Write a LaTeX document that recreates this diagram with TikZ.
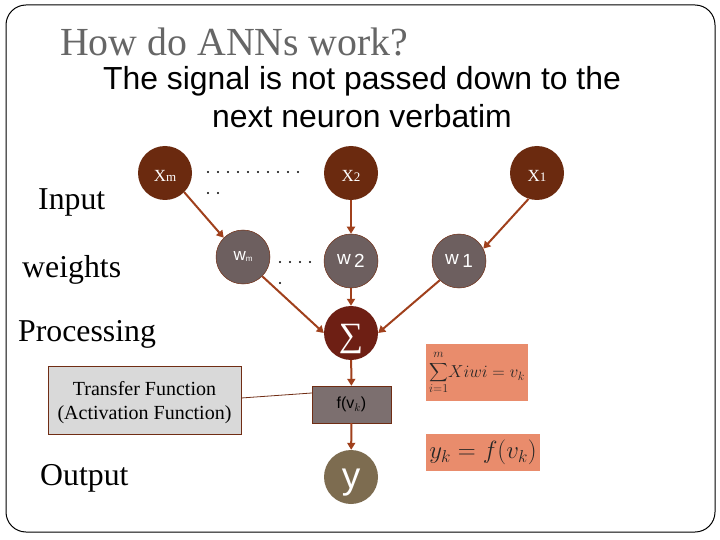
\documentclass[tikz,border=0pt]{standalone}
\usepackage{fontspec}
\setmainfont{Liberation Serif}
\setsansfont{Liberation Sans}
\usetikzlibrary{arrows.meta}

\definecolor{xbrown}{HTML}{6B2A0F}
\definecolor{sumred}{HTML}{6E1F14}
\definecolor{wgray}{HTML}{6D5F5F}
\definecolor{yolive}{HTML}{7D6C50}
\definecolor{wire}{HTML}{A0401C}
\definecolor{salmon}{HTML}{E98C6C}

\newcommand{\fsz}[1]{\fontsize{#1}{#1}\selectfont}

\tikzset{
  neuron/.style={circle, minimum size=54pt, inner sep=0pt, text=white},
  xnode/.style={neuron, fill=xbrown, font=\fsz{17}},
  wnode/.style={neuron, fill=wgray, draw=wire!70!black, line width=.5pt, font=\sffamily\fsz{20}},
  label/.style={anchor=base west, inner sep=0pt, font=\fsz{31.8}},
  salmonbox/.style={fill=salmon, inner sep=0pt, text=black!85},
  link/.style={draw=wire, line width=2pt, -{Triangle[length=7pt,width=8pt]}},
  dotrow/.style={circle, fill=black, inner sep=0pt, minimum size=2.4pt}
}

\begin{document}
\begin{tikzpicture}[x=1pt,y=-1pt]
\useasboundingbox (0,0) rectangle (720,540);
\fill[white] (0,0) rectangle (720,540);
\draw[black, line width=1pt, rounded corners=20pt] (6,5) rectangle (715,532);

% headings
\node[anchor=base west, inner sep=0pt, text=black!60, font=\fsz{39.8}] (title) at (60,56) {How do ANNs work?};
\node[anchor=base, inner sep=0pt, font=\sffamily\fsz{31.9}] (sub1) at (362,90) {The signal is not passed down to the};
\node[anchor=base, inner sep=0pt, font=\sffamily\fsz{31.9}] (sub2) at (362,128) {next neuron verbatim};

% row labels
\node[label] (input) at (38,210) {Input};
\node[label] (weights) at (22,277) {weights};
\node[label] (proc) at (18,341) {Processing};
\node[label] (output) at (40,485) {Output};

% neurons
\node[xnode] (xm) at (165,173) {\smash{\raisebox{-9pt}{X{\fsz{13}m}}}};
\node[xnode] (x2) at (351,173) {\smash{\raisebox{-9pt}{X{\fsz{13}2}}}};
\node[xnode] (x1) at (537,173) {\smash{\raisebox{-9pt}{X{\fsz{13}1}}}};
\node[wnode] (wm) at (243,257) {{\fsz{17}w}{\fsz{8}\raisebox{-1pt}{m}}};
\node[wnode] (w2) at (351,261) {{\fsz{19}\raisebox{3pt}{w}}\,{\fsz{19}2}};
\node[wnode] (w1) at (459,261) {{\fsz{19}\raisebox{3pt}{w}}\,{\fsz{19}1}};
\node[neuron, fill=sumred, font=\fsz{34}] (sum) at (351,333) {\smash{\raisebox{-13pt}{∑}}};
\node[draw=wire!70!black, fill=wgray!90!white, minimum width=79pt, minimum height=37pt, inner sep=0pt, font=\sffamily\fsz{16}] (f) at (351.5,404.5) {f(v$_{k}$)};
\node[neuron, fill=yolive, font=\sffamily\fsz{37}] (y) at (351,477) {\smash{\raisebox{-11pt}{y}}};

% transfer box
\node[draw=wire!70!black, fill=black!15, minimum width=193pt, minimum height=68pt, inner sep=0pt, align=center, font=\fsz{20}] (tf) at (144.5,400) {\rule{0pt}{20pt}Transfer Function\\[4pt](Activation Function)};

% links
\draw[link] (xm.-45) -- (wm.135);
\draw[link] (x2) -- (w2);
\draw[link] (x1.-108) -- (w1.27);
\draw[link] (wm.-45) -- (sum.180);
\draw[link] (w2) -- (sum);
\draw[link] (w1.225) -- (sum.0);
\draw[link] (sum) -- (f);
\draw[link] (f) -- (y);
\draw[wire!70!black, line width=.8pt] (tf.east |- 0,398) -- (f.west |- 0,393);

% dotted continuation marks
\foreach \i in {0,...,9} \node[dotrow] (a\i) at (208+10*\i,172) {};
\foreach \i in {0,1} \node[dotrow] (b\i) at (208+10*\i,193) {};
\foreach \i in {0,...,3} \node[dotrow] (c\i) at (280+10*\i,262) {};
\node[dotrow] (d0) at (280,283) {};

% formulas
\node[salmonbox, minimum width=102pt, minimum height=57pt, font=\fsz{17.5}] (eq1) at (477,372.5) {$\mathop{\scalebox{1.3}{$\displaystyle\sum$}}\limits_{\raisebox{-2pt}{$\scriptstyle i=1$}}^{\raisebox{2pt}{$\scriptstyle m$}}\! Xiwi = v_k$};
\node[salmonbox, minimum width=114pt, minimum height=37pt, font=\fsz{25}] (eq2) at (483,452.5) {$y_k = f(v_k)$};
\end{tikzpicture}
\end{document}
